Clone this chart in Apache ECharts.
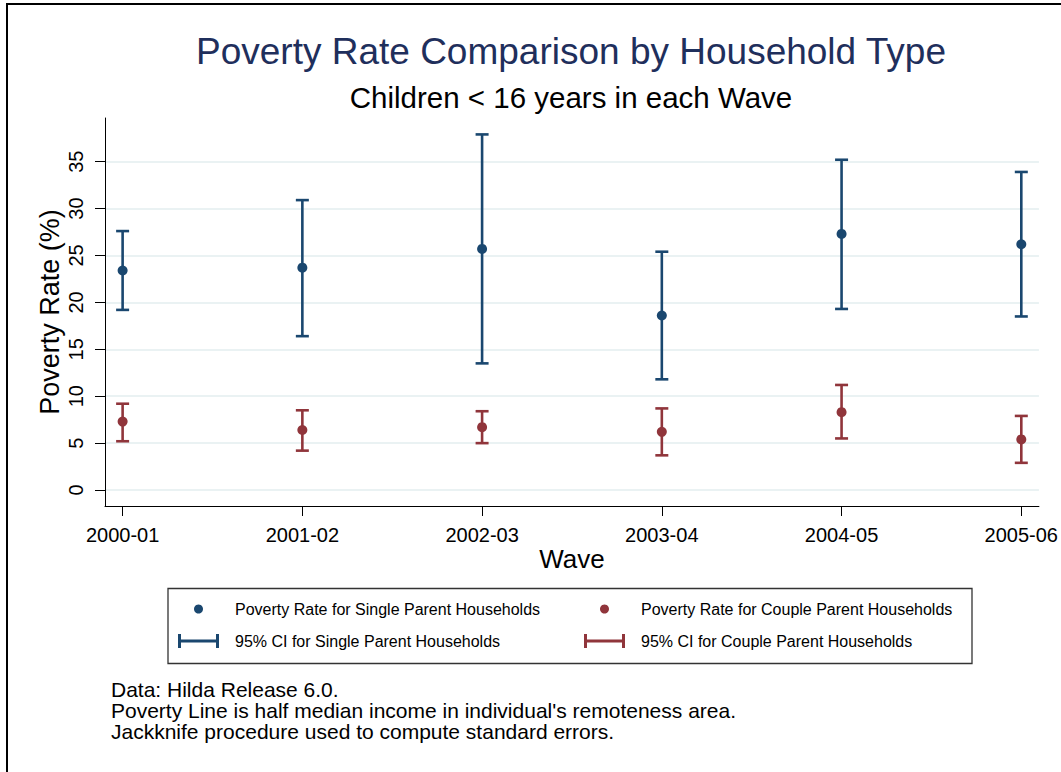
<!DOCTYPE html>
<html>
<head>
<meta charset="utf-8">
<title>Poverty Rate Comparison by Household Type</title>
<script src="https://cdn.jsdelivr.net/npm/echarts@6/dist/echarts.min.js"></script>
<style>
  html, body { margin: 0; padding: 0; background: #fff; }
  #chart { width: 1061px; height: 772px; }
</style>
</head>
<body>
<div id="chart"></div>
<script>
// Survey waves (x axis categories)
const waves = ['2000-01', '2001-02', '2002-03', '2003-04', '2004-05', '2005-06'];

// Single parent households: point estimate and 95% CI bounds (%)
const singleRate = [23.4, 23.7, 25.7, 18.6, 27.3, 26.2];
const singleLow  = [19.2, 16.4, 13.5, 11.8, 19.3, 18.5];
const singleHigh = [27.6, 30.9, 37.9, 25.4, 35.2, 33.9];

// Couple parent households: point estimate and 95% CI bounds (%)
const coupleRate = [7.3, 6.4, 6.7, 6.2, 8.3, 5.4];
const coupleLow  = [5.2, 4.2, 5.0, 3.7, 5.5, 2.9];
const coupleHigh = [9.2, 8.5, 8.4, 8.7, 11.2, 7.9];

// Y axis tick values
const yTicks = [0, 5, 10, 15, 20, 25, 30, 35];

const notes = [
  'Data: Hilda Release 6.0.',
  "Poverty Line is half median income in individual's remoteness area.",
  'Jackknife procedure used to compute standard errors.'
];

const NAVY = '#1a476f';
const MAROON = '#90353b';
const FONT = '"Liberation Sans", Arial, Helvetica, sans-serif';

const names = {
  singleRate: 'Poverty Rate for Single Parent Households',
  coupleRate: 'Poverty Rate for Couple Parent Households',
  singleCI: '95% CI for Single Parent Households',
  coupleCI: '95% CI for Couple Parent Households'
};

const waveX = waves.map((w, i) => i + 1);

function ciData(low, high) {
  return waveX.map((x, i) => [x, low[i], high[i]]);
}
function pointData(rate) {
  return waveX.map((x, i) => [x, rate[i]]);
}

// Vertical whisker with caps at both ends
function ciRenderer(color) {
  return function (params, api) {
    const x = api.value(0);
    const lo = api.coord([x, api.value(1)]);
    const hi = api.coord([x, api.value(2)]);
    const hw = 6.5;
    const style = { stroke: color, lineWidth: 2.6, fill: null };
    return {
      type: 'group',
      children: [
        { type: 'line', shape: { x1: lo[0], y1: lo[1], x2: hi[0], y2: hi[1] }, style: style },
        { type: 'line', shape: { x1: lo[0] - hw, y1: lo[1], x2: lo[0] + hw, y2: lo[1] }, style: style },
        { type: 'line', shape: { x1: hi[0] - hw, y1: hi[1], x2: hi[0] + hw, y2: hi[1] }, style: style }
      ]
    };
  };
}

const ciIcon = 'path://M0,0H3V5.5H38V0H41V14H38V8.5H3V14H0Z';
const ICON_W = 41;

// One legend per entry so the two columns line up.
// The layout starts at the drawn content, so a narrow (aspect-kept) circle
// is offset by its inset inside the icon box.
function legendItem(name, icon, boxLeft, top, h, inset) {
  return {
    data: [{ name: name, icon: icon }],
    left: boxLeft + inset,
    top: top,
    padding: 0,
    itemWidth: ICON_W,
    itemHeight: h,
    selectedMode: false,
    textStyle: { fontFamily: FONT, fontSize: 16, color: '#000', padding: [0, 0, 0, 11] }
  };
}

function centeredText(text, x, y, size, color) {
  return {
    type: 'text', x: x, y: y, silent: true,
    style: {
      text: text, fill: color, font: size + 'px ' + FONT,
      align: 'center', verticalAlign: 'middle',
      textAlign: 'center', textVerticalAlign: 'middle'
    }
  };
}

const noteElements = notes.map((t, i) => ({
  type: 'text', x: 111, y: 689 + i * 21, silent: true,
  style: {
    text: t, fill: '#000', font: '21px ' + FONT,
    align: 'left', verticalAlign: 'middle',
    textAlign: 'left', textVerticalAlign: 'middle'
  }
}));

const chart = echarts.init(document.getElementById('chart'), null, { renderer: 'svg' });

chart.setOption({
  animation: false,
  backgroundColor: '#fff',
  grid: { left: 105, right: 20, top: 118, bottom: 266, containLabel: false },
  xAxis: {
    type: 'value',
    min: 0.902,
    max: 6.098,
    name: 'Wave',
    nameLocation: 'middle',
    nameGap: 40,
    nameMoveOverlap: false,
    nameTextStyle: { fontFamily: FONT, fontSize: 26, color: '#000' },
    axisLine: { onZero: false, lineStyle: { color: '#000', width: 1 } },
    axisTick: { show: true, length: 10, customValues: waveX, lineStyle: { color: '#000', width: 1 } },
    axisLabel: {
      customValues: waveX,
      margin: 19,
      fontFamily: FONT, fontSize: 20, color: '#000',
      formatter: v => waves[Math.round(v) - 1]
    },
    splitLine: { show: false }
  },
  yAxis: {
    type: 'value',
    min: -1.7,
    max: 39.65,
    name: 'Poverty Rate (%)',
    nameLocation: 'middle',
    nameGap: 42,
    nameMoveOverlap: false,
    nameTextStyle: { fontFamily: FONT, fontSize: 27, color: '#000' },
    axisLine: { show: true, onZero: false, lineStyle: { color: '#000', width: 1 } },
    axisTick: { show: true, length: 10, customValues: yTicks, lineStyle: { color: '#000', width: 1 } },
    axisLabel: {
      customValues: yTicks,
      rotate: 90,
      margin: 19,
      fontFamily: FONT, fontSize: 20, color: '#000'
    },
    splitLine: { show: true, lineStyle: { color: '#eaf2f3', width: 2.2 } }
  },
  legend: [
    legendItem(names.singleRate, 'circle', 178, 601, 9, 16),
    legendItem(names.coupleRate, 'circle', 584, 601, 9, 16),
    legendItem(names.singleCI, ciIcon, 178, 633, 14, 0),
    legendItem(names.coupleCI, ciIcon, 584, 633, 14, 0)
  ],
  graphic: {
    elements: [
      // outer frame
      { type: 'line', silent: true, shape: { x1: 6, y1: 4, x2: 1061, y2: 4 }, style: { stroke: '#000', lineWidth: 2 } },
      { type: 'line', silent: true, shape: { x1: 7, y1: 4, x2: 7, y2: 772 }, style: { stroke: '#000', lineWidth: 2 } },
      // legend box
      { type: 'rect', silent: true, z: -1, shape: { x: 168, y: 588.5, width: 804, height: 75 },
        style: { fill: '#fff', stroke: '#333', lineWidth: 1.3 } },
      centeredText('Poverty Rate Comparison by Household Type', 571, 51, 37, '#1f2f5c'),
      centeredText('Children < 16 years in each Wave', 571, 97, 29.5, '#000')
    ].concat(noteElements)
  },
  series: [
    {
      type: 'custom', name: names.singleCI, color: NAVY,
      renderItem: ciRenderer(NAVY),
      encode: { x: 0, y: [1, 2] },
      data: ciData(singleLow, singleHigh), z: 2
    },
    {
      type: 'custom', name: names.coupleCI, color: MAROON,
      renderItem: ciRenderer(MAROON),
      encode: { x: 0, y: [1, 2] },
      data: ciData(coupleLow, coupleHigh), z: 2
    },
    {
      type: 'scatter', name: names.singleRate, color: NAVY,
      symbol: 'circle', symbolSize: 10,
      itemStyle: { color: NAVY, opacity: 1 },
      data: pointData(singleRate), z: 3
    },
    {
      type: 'scatter', name: names.coupleRate, color: MAROON,
      symbol: 'circle', symbolSize: 10,
      itemStyle: { color: MAROON, opacity: 1 },
      data: pointData(coupleRate), z: 3
    }
  ]
});
</script>
</body>
</html>
